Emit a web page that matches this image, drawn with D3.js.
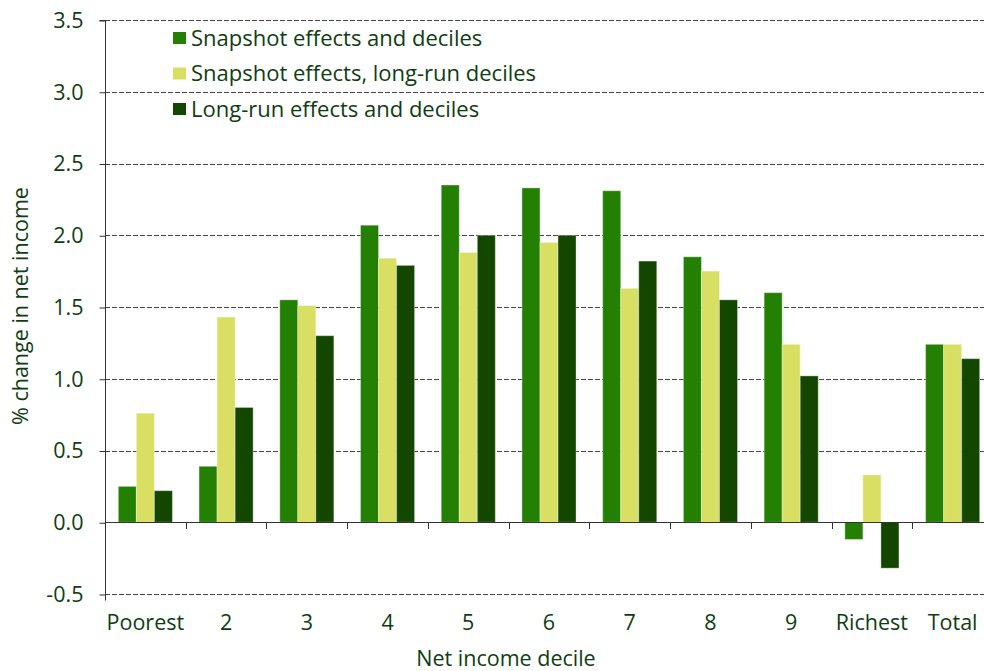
<!DOCTYPE html>
<html>
<head>
<meta charset="utf-8">
<script src="https://cdn.jsdelivr.net/npm/d3@7"></script>
<style>
  html, body { margin: 0; padding: 0; background: #fff; }
  svg { display: block; }
  text { font-family: "Open Sans", "Noto Sans", sans-serif; fill: #0f3d12; }
</style>
</head>
<body>
<svg id="chart" width="984" height="671"></svg>
<script>
// Categories (net income deciles) and the three series, % change in net income
const categories = ["Poorest", "2", "3", "4", "5", "6", "7", "8", "9", "Richest", "Total"];
const seriesNames = ["Snapshot effects and deciles", "Snapshot effects, long-run deciles", "Long-run effects and deciles"];
const snapshotEffects = [0.25, 0.39, 1.55, 2.07, 2.35, 2.33, 2.31, 1.85, 1.60, -0.12, 1.24];
const snapshotLongRunDeciles = [0.76, 1.43, 1.51, 1.84, 1.88, 1.95, 1.63, 1.75, 1.24, 0.33, 1.24];
const longRunEffects = [0.22, 0.80, 1.30, 1.79, 2.00, 2.00, 1.82, 1.55, 1.02, -0.32, 1.14];
const yTicks = [-0.5, 0, 0.5, 1.0, 1.5, 2.0, 2.5, 3.0, 3.5];
const colors = ["#238003", "#d8df62", "#134700"];

const seriesValues = [snapshotEffects, snapshotLongRunDeciles, longRunEffects];

const svg = d3.select("#chart");
const margin = { left: 105, top: 20, right: 993, bottom: 594 };
const fontSize = 21.5;

const x = d3.scaleBand().domain(categories).range([margin.left, margin.right]).paddingInner(0).paddingOuter(0);
const y = d3.scaleLinear().domain([-0.5, 3.5]).range([margin.bottom, margin.top]);
const groupWidth = x.bandwidth() * 0.67;
const xInner = d3.scaleBand().domain(d3.range(seriesNames.length)).range([0, groupWidth]);

// Dashed gridlines (all ticks except the zero baseline)
svg.append("g")
  .selectAll("line")
  .data(yTicks.filter(d => d !== 0))
  .join("line")
  .attr("x1", margin.left)
  .attr("x2", 984)
  .attr("y1", d => Math.round(y(d)) + 0.5)
  .attr("y2", d => Math.round(y(d)) + 0.5)
  .attr("stroke", "#444")
  .attr("stroke-width", 1)
  .attr("stroke-dasharray", "5,2");

// Bars
const groups = svg.append("g")
  .selectAll("g")
  .data(categories)
  .join("g")
  .attr("transform", d => `translate(${x(d) + (x.bandwidth() - groupWidth) / 2},0)`);

groups.selectAll("rect")
  .data((c, i) => seriesValues.map((vals, s) => ({ s, v: vals[i] })))
  .join("rect")
  .attr("x", d => xInner(d.s))
  .attr("width", xInner.bandwidth())
  .attr("y", d => y(Math.max(0, d.v)))
  .attr("height", d => Math.abs(y(d.v) - y(0)))
  .attr("fill", d => colors[d.s])
  .attr("stroke", "rgba(255,255,255,0.35)")
  .attr("stroke-width", 1);

// Y axis (plain hyphen for the negative label)
const yAxis = d3.axisLeft(y)
  .tickValues(yTicks)
  .tickFormat(d => d3.format(".1f")(d).replace("\u2212", "-"))
  .tickSize(6)
  .tickPadding(16);

const gy = svg.append("g")
  .attr("transform", `translate(${margin.left + 0.5},0.5)`)
  .call(yAxis);
gy.select(".domain").attr("stroke", "#333").attr("d", `M-6,${y(3.5)}H0V${y(-0.5) + 6}`);
gy.selectAll(".tick line").attr("stroke", "#333");
gy.selectAll(".tick text")
  .attr("font-size", fontSize)
  .style("font-family", "'Open Sans', sans-serif")
  .attr("fill", "#0f3d12");

// X axis along the zero line, ticks between categories
const boundaries = categories.slice(1).map(c => x(c));
const gx = svg.append("g");
gx.append("line")
  .attr("x1", margin.left)
  .attr("x2", 984)
  .attr("y1", Math.round(y(0)) + 0.5)
  .attr("y2", Math.round(y(0)) + 0.5)
  .attr("stroke", "#333");
gx.selectAll("line.tick")
  .data(boundaries)
  .join("line")
  .attr("class", "tick")
  .attr("x1", d => Math.round(d) + 0.5)
  .attr("x2", d => Math.round(d) + 0.5)
  .attr("y1", Math.round(y(0)))
  .attr("y2", Math.round(y(0)) + 7)
  .attr("stroke", "#333");

// Category labels below the plot
svg.append("g")
  .selectAll("text")
  .data(categories)
  .join("text")
  .attr("x", d => x(d) + x.bandwidth() / 2)
  .attr("y", 630)
  .attr("text-anchor", "middle")
  .attr("font-size", fontSize)
  .text(d => d);

// Axis titles
svg.append("text")
  .attr("x", 506)
  .attr("y", 666)
  .attr("text-anchor", "middle")
  .attr("font-size", fontSize)
  .text("Net income decile");

svg.append("text")
  .attr("transform", "translate(28,306) rotate(-90)")
  .attr("text-anchor", "middle")
  .attr("font-size", fontSize)
  .text("% change in net income");

// Legend
const legend = svg.append("g")
  .selectAll("g")
  .data(seriesNames)
  .join("g")
  .attr("transform", (d, i) => `translate(173,${38 + i * 35.5})`);
legend.append("rect")
  .attr("x", 0)
  .attr("y", -6)
  .attr("width", 13)
  .attr("height", 12)
  .attr("fill", (d, i) => colors[i]);
legend.append("text")
  .attr("x", 18)
  .attr("y", 0)
  .attr("dy", "0.35em")
  .attr("font-size", 22)
  .text(d => d);
</script>
</body>
</html>
